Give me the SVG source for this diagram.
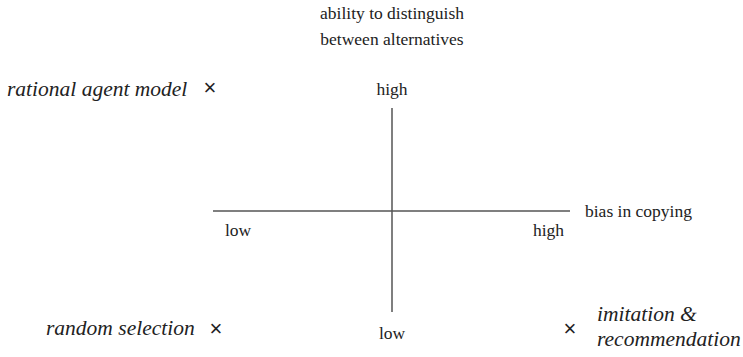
<svg xmlns="http://www.w3.org/2000/svg" width="743" height="357" viewBox="0 0 743 357">
<style>
.t{font-size:17.5px;fill:#222}
.i{font-size:21.5px;font-style:italic;fill:#222}
.x{font-size:22px;fill:#222;text-anchor:middle}
.ax{stroke:#555;stroke-width:1.5;fill:none}
</style>
<rect width="743" height="357" fill="#fff"/>
<g id="connectors">
<line class="ax" x1="213" y1="211" x2="570" y2="211"/>
<line class="ax" x1="392" y1="108" x2="392" y2="312"/>
</g>
<g font-family="Liberation Serif, Times New Roman, serif">
<g id="y-axis-title">
<text class="t" x="392" y="19" text-anchor="middle">ability to distinguish</text>
<text class="t" x="392" y="45" text-anchor="middle">between alternatives</text>
</g>
<g id="y-high"><text class="t" x="392" y="95" text-anchor="middle">high</text></g>
<g id="y-low"><text class="t" x="392" y="339" text-anchor="middle">low</text></g>
<g id="x-axis-title"><text class="t" x="585" y="217">bias in copying</text></g>
<g id="x-low"><text class="t" x="225" y="236">low</text></g>
<g id="x-high"><text class="t" x="564" y="236" text-anchor="end">high</text></g>
<g id="rational-agent-model">
<text class="i" x="7" y="96">rational agent model</text>
<text class="x" x="210" y="95" font-family="Liberation Sans, Arial, sans-serif">×</text>
</g>
<g id="random-selection">
<text class="i" x="46" y="335">random selection</text>
<text class="x" x="216" y="336" font-family="Liberation Sans, Arial, sans-serif">×</text>
</g>
<g id="imitation-recommendation">
<text class="x" x="570" y="336" font-family="Liberation Sans, Arial, sans-serif">×</text>
<text class="i" x="597" y="321">imitation &amp;</text>
<text class="i" x="597" y="346">recommendation</text>
</g>
</g>
</svg>
